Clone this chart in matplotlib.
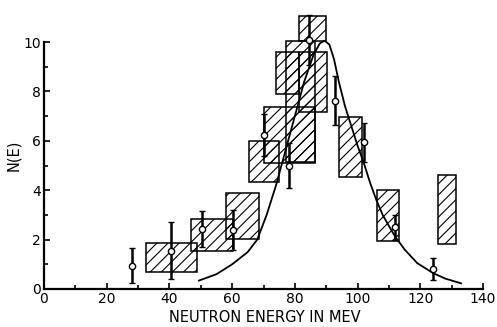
import matplotlib
matplotlib.use("Agg")
import matplotlib.pyplot as plt
from matplotlib.patches import Rectangle
from matplotlib.ticker import FixedLocator

# Measured points with error bars
pt_energy = [28, 40.5, 50.3, 60.3, 70, 78, 84.6, 92.8, 101.9, 112, 123.9]
pt_n = [0.95, 1.55, 2.43, 2.38, 6.25, 5.0, 10.08, 7.62, 5.94, 2.5, 0.81]
pt_err = [0.7, 1.15, 0.73, 0.8, 0.85, 0.9, 1.0, 1.0, 0.8, 0.5, 0.44]

# Hatched boxes: energy range (low, high) and N range (low, high)
box_e_lo = [32.6, 46.9, 58.0, 65.3, 70.0, 77.3, 74.0, 81.4, 81.3, 94.1, 106.2, 125.8]
box_e_hi = [48.8, 60.2, 68.7, 75.1, 86.4, 86.4, 81.4, 90.4, 89.9, 101.5, 113.3, 131.5]
box_n_lo = [0.68, 1.55, 2.01, 4.32, 5.10, 5.15, 7.90, 7.18, 10.05, 4.55, 1.94, 1.81]
box_n_hi = [1.85, 2.85, 3.87, 6.00, 7.36, 10.05, 9.60, 9.60, 11.05, 6.98, 4.00, 4.62]

# Theoretical curve
curve_e = [49.4, 55, 60, 65, 68, 71, 74, 77, 80, 83, 86, 88, 89.5, 91, 92.5, 94, 96, 98,
           100, 102, 104, 106, 108, 110, 112, 115, 119, 124, 128, 133]
curve_n = [0.34, 0.6, 1.0, 1.5, 2.0, 3.0, 4.2, 5.6, 7.0, 8.4, 9.5, 9.95, 10.05, 9.9, 9.3,
           8.4, 7.4, 6.6, 5.8, 5.1, 4.3, 3.6, 3.0, 2.55, 2.12, 1.6, 1.05, 0.65, 0.42, 0.23]

x_ticks = [0, 20, 40, 60, 80, 100, 120, 140]
x_minor = [10, 30, 50, 70, 90, 110, 130]
y_ticks = [0, 2, 4, 6, 8, 10]
y_minor = [1, 3, 5, 7, 9]

plt.rcParams['hatch.linewidth'] = 0.8
plt.rcParams['font.family'] = ['DejaVu Sans']

W, H = 497, 327
fig = plt.figure(figsize=(W / 100, H / 100), dpi=100)
ax = fig.add_axes([44 / W, 38 / H, (483 - 44) / W, 11.3 * 24.7 / H])
ax.set_xlim(0, 140)
ax.set_ylim(0, 11.3)

boxes = list(zip(box_e_lo, box_e_hi, box_n_lo, box_n_hi))
for elo, ehi, nlo, nhi in boxes:
    ax.add_patch(Rectangle((elo, nlo), ehi - elo, nhi - nlo, facecolor='none',
                           edgecolor='black', linewidth=1.1, hatch='///', zorder=2))

# overlapping parts of the boxes print darker (denser hatching)
for i in range(len(boxes)):
    for j in range(i + 1, len(boxes)):
        a, b = boxes[i], boxes[j]
        x0, x1 = max(a[0], b[0]), min(a[1], b[1])
        y0, y1 = max(a[2], b[2]), min(a[3], b[3])
        if x1 > x0 and y1 > y0:
            ax.add_patch(Rectangle((x0, y0), x1 - x0, y1 - y0, facecolor='none',
                                   edgecolor='none', linewidth=0, hatch='//////',
                                   zorder=2))

ax.plot(curve_e, curve_n, color='black', linewidth=1.3, zorder=3)

ax.errorbar(pt_energy, pt_n, yerr=pt_err, fmt='o', color='black', markersize=4.5,
            markerfacecolor='white', markeredgecolor='black', markeredgewidth=1.0,
            elinewidth=1.8, capsize=2.5, capthick=1.5, zorder=4)

for s in ['top', 'right']:
    ax.spines[s].set_visible(False)
ax.spines['left'].set_bounds(0, 10)
ax.spines['left'].set_linewidth(1.6)
ax.spines['bottom'].set_linewidth(1.6)

ax.set_xticks(x_ticks)
ax.set_xticklabels([str(v) for v in x_ticks])
ax.set_yticks(y_ticks)
ax.set_yticklabels([str(v) for v in y_ticks])
ax.xaxis.set_minor_locator(FixedLocator(x_minor))
ax.yaxis.set_minor_locator(FixedLocator(y_minor))
ax.tick_params(which='both', direction='in', width=1.2, labelsize=10, pad=2)
ax.tick_params(which='major', length=4)
ax.tick_params(which='minor', length=3)

fig.text(265 / W, 1 - 318 / H, 'NEUTRON ENERGY IN MEV', fontsize=10.5,
         ha='center', va='center')
fig.text(14 / W, 1 - 155 / H, 'N(E)', fontsize=10.5, rotation=90,
         ha='center', va='center')

fig.savefig('out.png', dpi=100)
